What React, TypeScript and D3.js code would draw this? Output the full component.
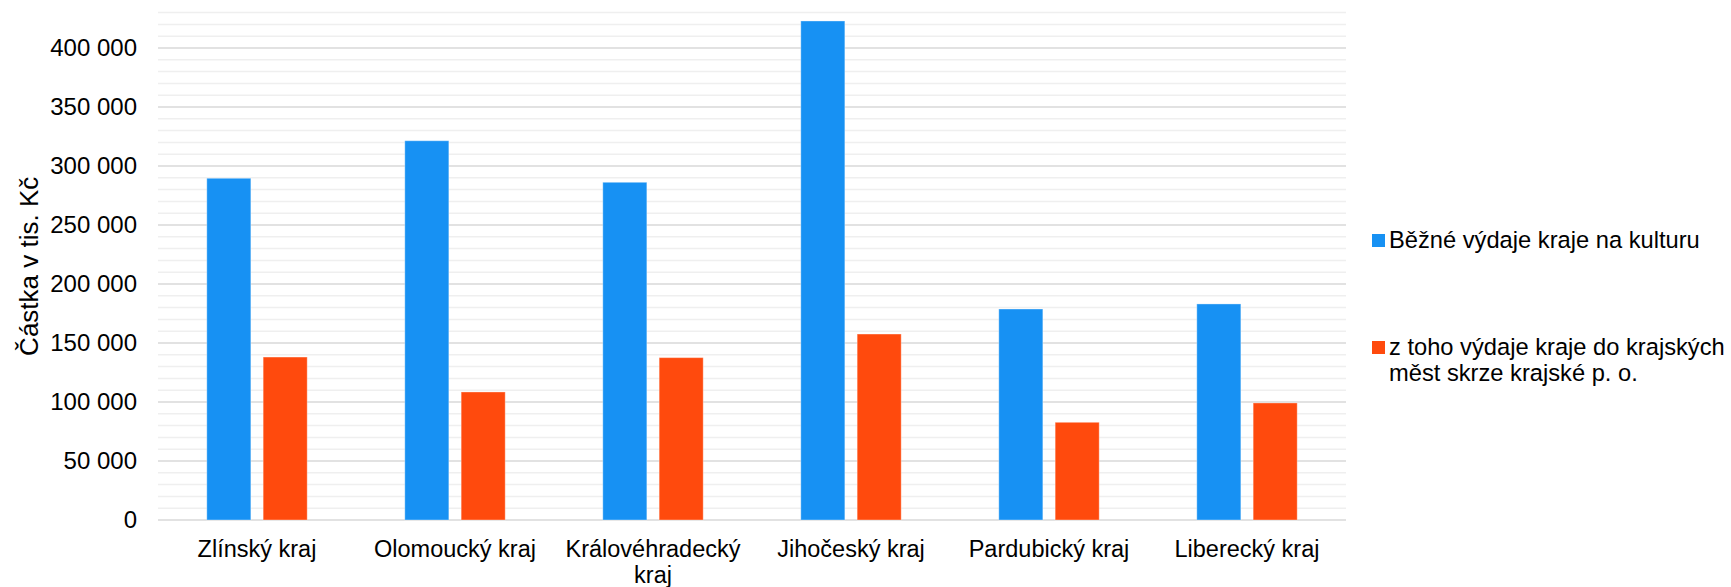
import React from "react";
import * as d3 from "d3";

const categories = [
  "Zlínský kraj",
  "Olomoucký kraj",
  "Královéhradecký kraj",
  "Jihočeský kraj",
  "Pardubický kraj",
  "Liberecký kraj",
];
const seriesNames = [
  "Běžné výdaje kraje na kulturu",
  "z toho výdaje kraje do krajských měst skrze krajské p. o.",
];
const legendLines = [
  ["Běžné výdaje kraje na kulturu"],
  ["z toho výdaje kraje do krajských", "měst skrze krajské p. o."],
];
const currentSpending = [289600, 321400, 286200, 422900, 178800, 183100];
const citySpending = [138100, 108500, 137600, 157600, 82800, 99200];
const majorTicks = [0, 50000, 100000, 150000, 200000, 250000, 300000, 350000, 400000];
const yMax = 430000;
const yTitle = "Částka v tis. Kč";

const W = 1731;
const H = 587;
const colors = ["#1791F3", "#FF4A0D"];
const FONT = "'Liberation Sans', Arial, sans-serif";

function fmt(v: number) {
  return d3.format(",")(v).replace(/,/g, " ");
}

function wrap(label: string): string[] {
  if (label.length <= 16) return [label];
  const i = label.lastIndexOf(" ");
  return [label.slice(0, i), label.slice(i + 1)];
}

export default function App() {
  const y = d3.scaleLinear().domain([0, yMax]).range([520, 520 - yMax * 0.00118]);
  const x = d3.scaleBand<string>().domain(categories).range([158, 1346]).padding(0);
  const half = 50.2;
  const xs = d3
    .scaleBand<number>()
    .domain([0, 1])
    .range([x.bandwidth() / 2 - half, x.bandwidth() / 2 + half])
    .paddingInner(0.2185)
    .paddingOuter(0);

  const minorTicks = d3.range(0, yMax + 1, 10000).filter((v) => v % 50000 !== 0);
  const series = [currentSpending, citySpending];

  return (
    <svg
      width={W}
      height={H}
      style={{ position: "absolute", left: 0, top: 0, background: "#fff" }}
      fontFamily={FONT}
    >
      <g>
        {minorTicks.map((v) => (
          <line key={"m" + v} x1={158} x2={1346} y1={y(v)} y2={y(v)} stroke="#efefef" strokeWidth={1.5} />
        ))}
        {majorTicks.map((v) => (
          <line key={"M" + v} x1={158} x2={1346} y1={y(v)} y2={y(v)} stroke="#d9d9d9" strokeWidth={1.5} />
        ))}
      </g>
      <g>
        {series.map((vals, si) =>
          vals.map((v, ci) => (
            <rect
              key={si + "-" + ci}
              x={(x(categories[ci]) as number) + (xs(si) as number)}
              y={y(v)}
              width={xs.bandwidth()}
              height={y(0) - y(v)}
              fill={colors[si]}
              stroke="rgba(255,255,255,0.35)"
              strokeWidth={1}
            />
          ))
        )}
      </g>
      <g fontSize={24} fill="#000">
        {majorTicks.map((v) => (
          <text key={"t" + v} x={137} y={y(v)} dy="0.32em" textAnchor="end">
            {fmt(v)}
          </text>
        ))}
      </g>
      <g fontSize={23.5} fill="#000">
        {categories.map((c) => {
          const lines = wrap(c);
          const cx = (x(c) as number) + x.bandwidth() / 2;
          return (
            <text key={c} x={cx} y={556.7} textAnchor="middle">
              {lines.map((l, i) => (
                <tspan key={i} x={cx} dy={i === 0 ? 0 : 26.6}>
                  {l}
                </tspan>
              ))}
            </text>
          );
        })}
      </g>
      <text
        transform={`translate(38,${(y(0) + y(yMax)) / 2}) rotate(-90)`}
        textAnchor="middle"
        fontSize={26}
        fill="#000"
      >
        {yTitle}
      </text>
      <g fontSize={23.7} fill="#000">
        {legendLines.map((lines, i) => {
          const top = i === 0 ? 234 : 341;
          return (
            <g key={seriesNames[i]}>
              <rect x={1372} y={top} width={13} height={13} fill={colors[i]} />
              <text x={1389} y={top + 14}>
                {lines.map((l, j) => (
                  <tspan key={j} x={1389} dy={j === 0 ? 0 : 26}>
                    {l}
                  </tspan>
                ))}
              </text>
            </g>
          );
        })}
      </g>
    </svg>
  );
}
